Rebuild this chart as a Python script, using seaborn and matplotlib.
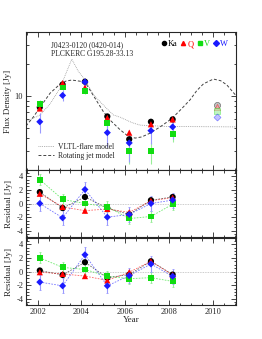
import numpy as np
import pandas as pd
import seaborn as sns
import matplotlib
matplotlib.use("Agg")
import matplotlib.pyplot as plt
from matplotlib.lines import Line2D
from matplotlib.ticker import MultipleLocator, LogLocator, NullFormatter, FixedLocator, FixedFormatter

# ---- data ----
years = [2002.1, 2003.14, 2004.16, 2005.18, 2006.18, 2007.17, 2008.16]
bands = ["Ka", "Q", "V", "W"]

flux_ka = [7.8, 12.8, 13.6, 6.4, 3.9, 5.7, 6.0]
flux_q = [7.6, 13.2, 12.0, 6.2, 4.5, 5.4, 6.0]
flux_v = [8.4, 12.0, 11.1, 5.5, 3.0, 3.0, 4.4]
flux_w = [5.7, 10.1, 13.5, 4.5, 3.6, 4.7, 5.1]
flux_err = {"Ka": 0.25, "Q": 0.3, "V": 0.7, "W": 1.2}

# 2010 faded points
year_2010 = 2010.17
flux_2010 = {"Ka": 8.2, "Q": 7.9, "V": 7.2, "W": 6.3}

# residuals, model 1 (flare) and model 2 (rotating jet)
res1_ka = [1.67, -0.67, 0.95, -0.67, -1.6, 0.48, 0.95]
res1_q = [1.43, -0.5, -1.05, -0.8, -1.3, 0.4, 0.86]
res1_v = [3.5, 0.6, 0.0, -0.5, -2.2, -1.9, -0.1]
res1_w = [0.0, -2.1, 2.05, -2.0, -1.6, 0.0, 0.5]

res2_ka = [0.15, -0.5, 1.35, -0.9, -0.45, 1.5, -0.45]
res2_q = [-0.1, -0.35, -0.67, -1.3, -0.1, 1.5, -0.5]
res2_v = [2.0, 0.6, 0.3, -0.7, -1.05, -0.9, -1.45]
res2_w = [-1.55, -2.1, 2.45, -2.1, -0.6, 1.1, -0.7]
res_err = {"Ka": 0.3, "Q": 0.3, "V": 0.8, "W": 1.1}

# model curves
flare_year = [2001.47, 2002.11, 2002.57, 2003.02, 2003.33, 2003.56, 2003.86,
              2004.17, 2004.54, 2004.7, 2005.15, 2005.46, 2005.76, 2006.3,
              2006.67, 2007.86, 2011.05]
flare_flux = [5.7, 6.6, 8.4, 11.8, 17.0, 22.2, 17.0,
              14.1, 10.3, 9.5, 7.6, 6.6, 6.3, 5.6,
              5.3, 5.15, 5.1]

jet_year = [2001.47, 2001.8, 2002.11, 2002.57, 2003.02, 2003.3, 2003.56, 2004.09,
            2004.24, 2004.62, 2005.0, 2005.31, 2005.76, 2006.14, 2006.45,
            2006.75, 2007.13, 2007.59, 2008.12, 2008.58, 2008.96, 2009.26,
            2009.57, 2010.02, 2010.35, 2010.63, 2011.06]
jet_flux = [5.2, 6.3, 7.8, 10.6, 12.9, 13.8, 14.1, 13.6,
            12.7, 9.5, 7.1, 5.9, 4.8, 4.15, 4.0,
            4.1, 4.45, 5.1, 6.1, 7.6, 9.2, 11.2,
            13.0, 14.4, 13.9, 12.7, 10.0]

colors = {"Ka": "black", "Q": "#ff0000", "V": "#11dd11", "W": "#1a1aff"}
faded = {"Ka": "#999999", "Q": "#ff9999", "V": "#99ee99", "W": "#9999ff"}
markers = {"Ka": "o", "Q": "^", "V": "s", "W": "D"}
msize = {"Ka": 20, "Q": 20, "V": 18, "W": 13}

flux = pd.DataFrame({
    "year": years * 4,
    "band": [b for b in bands for _ in years],
    "flux": flux_ka + flux_q + flux_v + flux_w,
})
res1 = pd.DataFrame({
    "year": years * 4,
    "band": [b for b in bands for _ in years],
    "res": res1_ka + res1_q + res1_v + res1_w,
})
res2 = pd.DataFrame({
    "year": years * 4,
    "band": [b for b in bands for _ in years],
    "res": res2_ka + res2_q + res2_v + res2_w,
})

sns.set_theme(style="ticks")
plt.rcParams['font.family'] = ['Liberation Serif', 'DejaVu Serif']
plt.rcParams['axes.unicode_minus'] = False
plt.rcParams['xtick.direction'] = 'in'
plt.rcParams['ytick.direction'] = 'in'
plt.rcParams['axes.linewidth'] = 0.8

fig = plt.figure(figsize=(2.62, 3.39), dpi=100)
left, width = 0.0992, 0.8015
ax1 = fig.add_axes([left, 0.4985, width, 0.4071])
ax2 = fig.add_axes([left, 0.3009, width, 0.1976])
ax3 = fig.add_axes([left, 0.1003, width, 0.1976])

fs = 6

# ---- top panel ----
flare_style = dict(color="#999999", lw=0.6, linestyle=(0, (1, 1.2)))
jet_style = dict(color="#444444", lw=0.7, linestyle=(0, (3, 2)))
sns.lineplot(x=flare_year, y=flare_flux, ax=ax1, sort=False, **flare_style)
sns.lineplot(x=jet_year, y=jet_flux, ax=ax1, sort=False, **jet_style)
for b in bands:
    sub = flux[flux.band == b]
    ax1.errorbar(sub.year, sub.flux, yerr=flux_err[b], fmt="none",
                 ecolor=faded[b], elinewidth=0.8, capsize=0, zorder=3)
    sns.scatterplot(data=sub, x="year", y="flux", ax=ax1, color=colors[b],
                    marker=markers[b], s=msize[b], edgecolor="none",
                    zorder=4, legend=False)
    ax1.scatter([year_2010], [flux_2010[b]], marker=markers[b], s=msize[b],
                facecolor=faded[b], edgecolor=colors[b], linewidth=0.4,
                alpha=0.6, zorder=4)

ax1.set_yscale("log")
ax1.set_ylim(2, 40)
ax1.yaxis.set_major_locator(FixedLocator([10]))
ax1.yaxis.set_major_formatter(FixedFormatter(["10"]))
ax1.yaxis.set_minor_locator(LogLocator(base=10, subs=np.arange(2, 10)))
ax1.yaxis.set_minor_formatter(NullFormatter())
ax1.set_ylabel("Flux Density [Jy]", fontsize=6.5, labelpad=2)

ax1.text(0.12, 0.93, "J0423-0120 (0420-014)\nPLCKERC G195.28-33.13",
         transform=ax1.transAxes, fontsize=5.5, va="top", ha="left",
         linespacing=1.0)

band_handles = [Line2D([], [], marker=markers[b], color=colors[b], ls="none",
                       markersize=3) for b in bands]
leg1 = ax1.legend(band_handles, bands, loc="upper right", ncol=4, fontsize=6,
                  frameon=False, handlelength=0.6, handletextpad=0.2,
                  columnspacing=0.4, borderaxespad=0.6,
                  labelcolor=[colors[b] for b in bands])
ax1.add_artist(leg1)

model_handles = [Line2D([], [], **flare_style), Line2D([], [], **jet_style)]
ax1.legend(model_handles, ["VLTL-flare model", "Rotating jet model"],
           loc="lower left", fontsize=5.5, frameon=False, handlelength=2.0,
           handletextpad=0.6, labelspacing=0.1, borderaxespad=0.4,
           bbox_to_anchor=(0.03, 0.03))


# ---- residual panels ----
def residual_panel(ax, res):
    ax.axhline(0, color="#bbbbbb", lw=0.6, linestyle=(0, (1, 1)), zorder=1)
    for b in bands:
        sub = res[res.band == b]
        sns.lineplot(data=sub, x="year", y="res", ax=ax, color=colors[b],
                     lw=0.6, linestyle=(0, (2, 1.5)), alpha=0.6, zorder=2)
        ax.errorbar(sub.year, sub.res, yerr=res_err[b], fmt="none",
                    ecolor=faded[b], elinewidth=0.8, capsize=1, capthick=0.6,
                    zorder=3)
        sns.scatterplot(data=sub, x="year", y="res", ax=ax, color=colors[b],
                        marker=markers[b], s=msize[b], edgecolor="none",
                        zorder=4, legend=False)
    ax.set_ylim(-4.9, 4.9)
    ax.yaxis.set_major_locator(MultipleLocator(2))
    ax.yaxis.set_minor_locator(MultipleLocator(0.5))
    ax.set_ylabel("Residual [Jy]", fontsize=6.5, labelpad=2)


residual_panel(ax2, res1)
residual_panel(ax3, res2)

for ax in (ax1, ax2, ax3):
    ax.set_xlim(2001.47, 2011.05)
    ax.xaxis.set_major_locator(MultipleLocator(2))
    ax.xaxis.set_minor_locator(MultipleLocator(0.5))
    ax.tick_params(which="both", top=True, right=True, labelsize=fs, pad=2,
                   width=0.6)
    ax.tick_params(which="major", length=3.5)
    ax.tick_params(which="minor", length=1.8)
    ax.set_xlabel("")

ax1.tick_params(labelbottom=False)
ax2.tick_params(labelbottom=False)
ax3.set_xlabel("Year", fontsize=6.5, labelpad=0)

fig.savefig("out.png", dpi=100)
